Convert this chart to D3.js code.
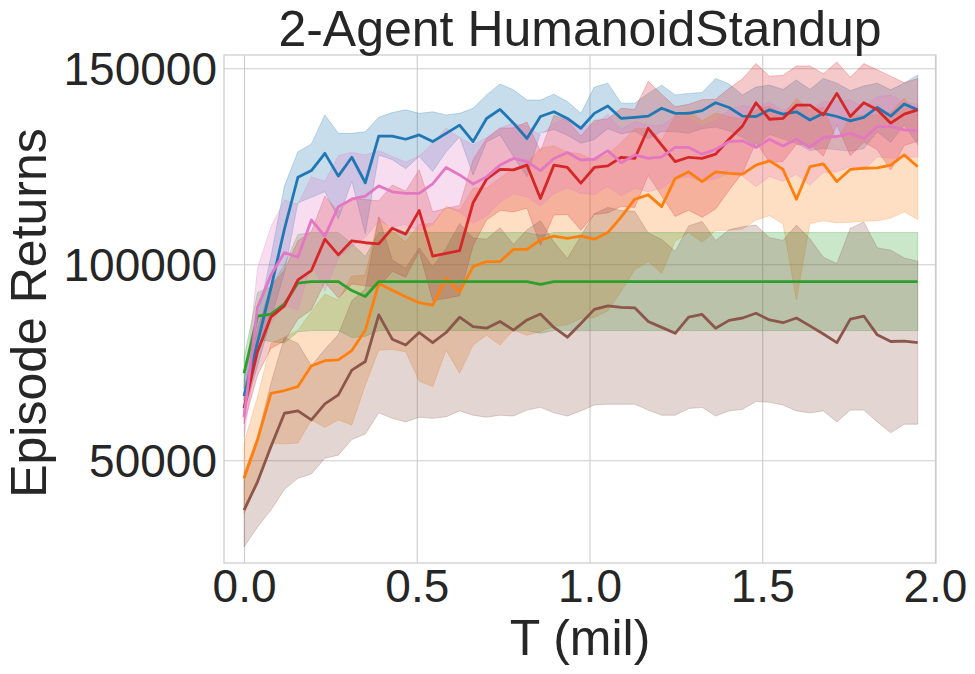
<!DOCTYPE html>
<html>
<head>
<meta charset="utf-8">
<script src="https://cdn.jsdelivr.net/npm/d3@7"></script>
<style>
    body { margin: 0; background: #ffffff; }
    text { font-family: "Liberation Sans", Arial, sans-serif; fill: #262626; }
</style>
</head>
<body>
<script>
// time steps (millions)
var steps = [0, 0.039, 0.078, 0.117, 0.156, 0.195, 0.234, 0.273, 0.312, 0.351,
    0.39, 0.429, 0.468, 0.507, 0.546, 0.585, 0.624, 0.663, 0.702, 0.741,
    0.78, 0.819, 0.858, 0.897, 0.936, 0.975, 1.014, 1.053, 1.092, 1.131,
    1.17, 1.209, 1.248, 1.287, 1.326, 1.365, 1.404, 1.443, 1.482, 1.521,
    1.56, 1.599, 1.638, 1.677, 1.716, 1.755, 1.794, 1.833, 1.872, 1.911,
    1.95];

var blueMean = [66400, 80000, 94000, 109000, 122200, 123900, 128300, 122500, 127300, 120800,
    132700, 132700, 131900, 133000, 131300, 133400, 135500, 131300, 137200, 139500,
    136000, 132100, 137700, 138900, 137200, 134700, 138500, 140400, 137200, 137500,
    137800, 139800, 138500, 138500, 139200, 141200, 140000, 137800, 137700, 139400,
    138300, 138900, 136800, 138500, 137700, 136600, 137500, 140000, 137800, 140900,
    139400];
var blueStd = [4000, 6000, 8000, 11000, 6500, 6800, 9800, 10900, 6100, 13000,
    4800, 6000, 7500, 5500, 7600, 4700, 3000, 8500, 6000, 6500,
    8500, 9800, 4200, 4500, 4300, 3800, 6700, 5800, 3900, 3600,
    5800, 5900, 4700, 5100, 4600, 6200, 6000, 5400, 7500, 6300,
    6300, 8100, 7800, 8900, 8500, 7700, 8000, 6200, 6700, 5300,
    8900];

var orangeMean = [45400, 55200, 67100, 67800, 68800, 74100, 75400, 75600, 78000, 83200,
    95100, 93400, 91700, 90200, 89600, 96400, 93000, 99400, 100700, 100700,
    103800, 103800, 106200, 107200, 106600, 107200, 106400, 108100, 112100, 116600,
    117700, 114700, 121900, 123600, 121100, 123600, 123200, 123000, 125300, 126400,
    124200, 116600, 124900, 125600, 121100, 124200, 124500, 124600, 125300, 127900,
    124900];
var orangeStd = [9000, 11000, 12700, 13600, 14400, 13800, 17000, 15300, 19000, 14000,
    17000, 15100, 14000, 20000, 20800, 18300, 20800, 20000, 18800, 21300,
    20600, 21900, 23400, 23000, 22000, 21000, 20000, 20000, 19000, 18000,
    17000, 17000, 16000, 15500, 15500, 15000, 14500, 14000, 14000, 14000,
    13900, 25700, 14500, 14500, 10500, 13500, 13500, 13500, 13500, 14500,
    13500];

var greenMean = [72200, 86800, 87300, 89900, 95200, 95600, 95600, 95600, 93300, 91800,
    95600, 95600, 95600, 95600, 95600, 95600, 95600, 95600, 95600, 95600,
    95600, 95600, 94900, 95600, 95600, 95600, 95600, 95600, 95600, 95600,
    95600, 95600, 95600, 95600, 95600, 95600, 95600, 95600, 95600, 95600,
    95600, 95600, 95600, 95600, 95600, 95600, 95600, 95600, 95600, 95600,
    95600];
var greenStd = [4000, 6000, 7000, 10000, 12400, 12500, 12500, 12500, 12000, 10200,
    12500, 12500, 12500, 12500, 12500, 12500, 12500, 12500, 12500, 12500,
    12500, 12500, 12500, 12500, 12500, 12500, 12500, 12500, 12500, 12500,
    12500, 12500, 12500, 12500, 12500, 12500, 12500, 12500, 12500, 12500,
    12500, 12500, 12500, 12500, 12500, 12500, 12500, 12500, 12500, 12500,
    12500];

var redMean = [63300, 77700, 86600, 89400, 96000, 98400, 106400, 102400, 106000, 105500,
    105200, 109200, 107700, 113700, 102100, 102800, 103500, 115700, 121700, 124200,
    124100, 125300, 116800, 125300, 124700, 120700, 124700, 125100, 127300, 127000,
    134700, 130400, 126200, 127300, 127000, 128100, 131900, 135300, 141200, 137000,
    137200, 140600, 140600, 138100, 143600, 137700, 141200, 139400, 136000, 138300,
    139400];
var redStd = [4000, 6000, 8000, 9000, 10000, 10000, 11000, 11000, 11000, 11000,
    11000, 11000, 11000, 10400, 11300, 11500, 11500, 11000, 10400, 10500,
    10700, 11000, 12000, 12700, 12000, 12000, 12000, 12000, 12500, 12500,
    12000, 13000, 14000, 13500, 15000, 14000, 13000, 12000, 10000, 11000,
    11000, 10000, 10000, 10500, 8000, 10000, 10000, 10200, 12000, 8000,
    8000];

var brownMean = [37300, 44500, 53500, 62000, 62600, 60300, 64400, 66700, 73000, 75200,
    87100, 80900, 79400, 82600, 80000, 82600, 86500, 84100, 83700, 85400,
    83200, 85800, 87300, 83900, 81400, 84900, 88500, 89400, 89000, 88900,
    85400, 83900, 82400, 86500, 87200, 83700, 85700, 86300, 87500, 85800,
    85100, 86300, 84300, 82200, 80000, 86000, 86800, 82000, 80300, 80400,
    80000];
var brownStd = [9400, 11500, 16200, 19400, 17200, 13800, 13900, 15400, 17700, 18500,
    25000, 20200, 19600, 21600, 19300, 21500, 23900, 22600, 22700, 23900,
    21900, 23000, 23800, 21800, 20100, 22300, 24400, 25100, 24700, 24600,
    22600, 22400, 20900, 23300, 23700, 22400, 23100, 23300, 22500, 21000,
    21000, 23700, 22200, 19600, 20200, 23200, 24000, 22200, 23300, 21200,
    20800];

var pinkMean = [61000, 89000, 97300, 103000, 101800, 111300, 107200, 114700, 116600, 117400,
    120000, 118500, 118100, 118100, 120500, 124700, 122800, 120500, 122300, 125300,
    127000, 126200, 123900, 127000, 128500, 126600, 126800, 129000, 125900, 127900,
    127000, 127400, 129800, 129800, 128100, 129300, 131300, 131500, 129800, 131900,
    130200, 131900, 129800, 132400, 132600, 133400, 132100, 135100, 135100, 134300,
    134100];
var pinkStd = [5000, 10000, 12300, 13400, 13500, 11000, 14000, 13000, 12000, 10500,
    9000, 9000, 8000, 9500, 10400, 10000, 9500, 10000, 10000, 9500,
    9000, 9000, 9000, 9000, 9000, 8500, 9000, 9200, 8500, 8500,
    8500, 8000, 8000, 7500, 7000, 7500, 8000, 9000, 10000, 9500,
    9000, 9000, 9600, 9000, 9000, 8500, 8000, 7700, 8000, 7000,
    6700];

var xTicks = [0, 0.5, 1.0, 1.5, 2.0];
var yTicks = [50000, 100000, 150000];

var series = [
    { color: "#1f77b4", mean: blueMean, std: blueStd },
    { color: "#ff7f0e", mean: orangeMean, std: orangeStd },
    { color: "#2ca02c", mean: greenMean, std: greenStd },
    { color: "#d62728", mean: redMean, std: redStd },
    { color: "#8c564b", mean: brownMean, std: brownStd },
    { color: "#e377c2", mean: pinkMean, std: pinkStd }
];

var w = 975;
var h = 674;
var plotL = 224, plotR = 936, plotT = 55, plotB = 563;

var svg = d3.select("body").append("svg")
    .attr("width", w)
    .attr("height", h);

var x = d3.scaleLinear().domain([-0.058, 2.003]).range([plotL, plotR]);
var y = d3.scaleLinear().domain([23800, 153390]).range([plotB, plotT]);

// grid
svg.append("g")
    .attr("transform", "translate(0," + plotB + ")")
    .call(d3.axisBottom(x).tickValues(xTicks).tickSize(-(plotB - plotT)).tickFormat(""))
    .call(function (g) { g.select(".domain").remove(); })
    .selectAll("line").attr("stroke", "#cccccc").attr("stroke-width", 1.1);

svg.append("g")
    .attr("transform", "translate(" + plotL + ",0)")
    .call(d3.axisLeft(y).tickValues(yTicks).tickSize(-(plotR - plotL)).tickFormat(""))
    .call(function (g) { g.select(".domain").remove(); })
    .selectAll("line").attr("stroke", "#cccccc").attr("stroke-width", 1.1);

function rows(s) {
    return steps.map(function (t, i) { return { t: t, m: s.mean[i], s: s.std[i] }; });
}

var area = d3.area()
    .x(function (d) { return x(d.t); })
    .y0(function (d) { return y(d.m - d.s); })
    .y1(function (d) { return y(d.m + d.s); });

var line = d3.line()
    .x(function (d) { return x(d.t); })
    .y(function (d) { return y(d.m); });

// bands go under every line (like matplotlib zorder)
var bands = svg.append("g");
series.forEach(function (s) {
    bands.append("path")
        .attr("d", area(rows(s)))
        .attr("fill", s.color)
        .attr("fill-opacity", 0.25)
        .attr("stroke", s.color)
        .attr("stroke-opacity", 0.25)
        .attr("stroke-width", 1);
});

var lines = svg.append("g");
series.forEach(function (s) {
    lines.append("path")
        .attr("d", line(rows(s)))
        .attr("fill", "none")
        .attr("stroke", s.color)
        .attr("stroke-width", 2.8)
        .attr("stroke-linejoin", "round");
});

// spines
svg.append("rect")
    .attr("x", plotL).attr("y", plotT)
    .attr("width", plotR - plotL).attr("height", plotB - plotT)
    .attr("fill", "none")
    .attr("stroke", "#cccccc")
    .attr("stroke-width", 1.25);

// tick labels
var xAxis = svg.append("g")
    .attr("transform", "translate(0," + plotB + ")")
    .call(d3.axisBottom(x).tickValues(xTicks).tickFormat(d3.format(".1f")).tickSize(0).tickPadding(6));
xAxis.select(".domain").remove();
xAxis.selectAll("text").attr("font-size", 46).attr("fill", "#262626");

var yAxis = svg.append("g")
    .attr("transform", "translate(" + plotL + ",0)")
    .call(d3.axisLeft(y).tickValues(yTicks).tickFormat(d3.format("d")).tickSize(0).tickPadding(7));
yAxis.select(".domain").remove();
yAxis.selectAll("text").attr("font-size", 46).attr("dy", "0.36em").attr("fill", "#262626");
svg.selectAll(".tick text").attr("font-family", "'Liberation Sans', Arial, sans-serif");

// titles
svg.append("text")
    .text("2-Agent HumanoidStandup")
    .attr("x", 580).attr("y", 46)
    .attr("text-anchor", "middle")
    .attr("font-size", 50);

svg.append("text")
    .text("T (mil)")
    .attr("x", 580).attr("y", 655)
    .attr("text-anchor", "middle")
    .attr("font-size", 50);

svg.append("text")
    .text("Episode Returns")
    .attr("transform", "translate(46,313) rotate(-90)")
    .attr("text-anchor", "middle")
    .attr("font-size", 50);
</script>
</body>
</html>
